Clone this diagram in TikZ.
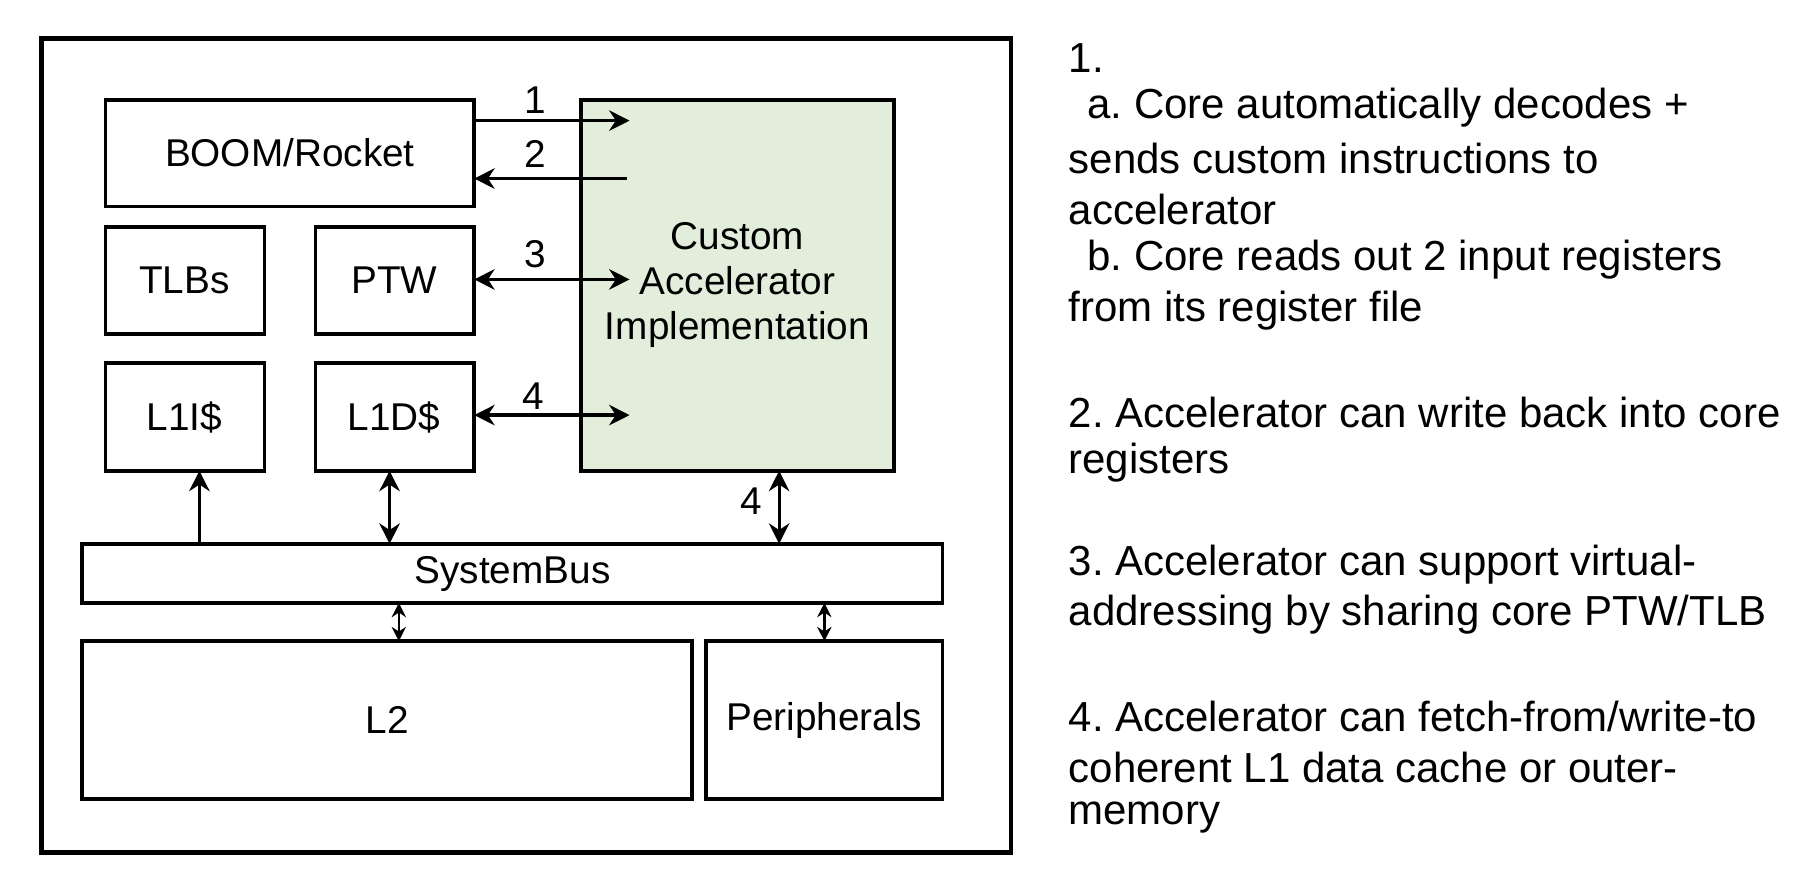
\documentclass[tikz,border=0pt]{standalone}
\usepackage{fontspec}
\setmainfont{Liberation Sans}
\usetikzlibrary{arrows.meta}
\frenchspacing
\definecolor{accgreen}{HTML}{E2EEDB}
\tikzset{
	blk/.style={draw=black,line width=0.9pt},
	lnk/.style={line width=0.8pt,-{Stealth[length=5pt,width=5pt]}},
	bilnk/.style={line width=0.8pt,{Stealth[length=5pt,width=5pt]}-{Stealth[length=5pt,width=5pt]}},
	smlnk/.style={line width=0.6pt,{Stealth[length=3.5pt,width=3.5pt]}-{Stealth[length=3.5pt,width=3.5pt]}},
	txt/.style={anchor=west,inner sep=0pt,font=\fontsize{10.3}{12}\selectfont},
	lbl/.style={font=\fontsize{9.5}{11}\selectfont}
}
\begin{document}
\begin{tikzpicture}[x=0.01cm,y=-0.01cm]
		%
		\useasboundingbox (0,0) rectangle (1568,769);
		\draw[line width=1.2pt] (36,33) rectangle (872,735);
		%
		\draw[blk,fill=accgreen] (501,86) rectangle (771,406);
		\node[lbl,align=center] (acc) at (636,246) {Custom\\Accelerator\\Implementation};
		\draw[blk] (91,86) rectangle (409,178);   \node[lbl] (boom) at (250,132) {BOOM/Rocket};
		\draw[blk] (91,196) rectangle (228,288);  \node[lbl] (tlb) at (159,242) {TLBs};
		\draw[blk] (272,196) rectangle (409,288); \node[lbl] (ptw) at (340,242) {PTW};
		\draw[blk] (91,313) rectangle (228,406);  \node[lbl] (lii) at (159,360) {L1I\$};
		\draw[blk] (272,313) rectangle (409,406); \node[lbl] (lid) at (340,360) {L1D\$};
		\draw[blk] (71,469) rectangle (813,520);  \node[lbl] (bus) at (442,495) {SystemBus};
		\draw[blk] (71,553) rectangle (597,689);  \node[lbl] (ltwo) at (334,621) {L2};
		\draw[blk] (609,553) rectangle (813,689); \node[lbl] (per) at (711,621) {Peripherals};
		%
		\coordinate (a1s) at (409,104); \coordinate (a1e) at (543,104);
		\coordinate (a2s) at (541,154); \coordinate (a2e) at (409,154);
		\coordinate (a3s) at (409,241); \coordinate (a3e) at (543,241);
		\coordinate (a4s) at (409,358); \coordinate (a4e) at (543,358);
		\draw[lnk] (a1s) -- (a1e); \node[lbl] (n1) at (462,86) {1};
		\draw[lnk] (a2s) -- (a2e); \node[lbl] (n2) at (462,133) {2};
		\draw[bilnk] (a3s) -- (a3e); \node[lbl] (n3) at (462,219) {3};
		\draw[bilnk] (a4s) -- (a4e); \node[lbl] (n4) at (460,342) {4};
		%
		\coordinate (v1s) at (172,469); \coordinate (v1e) at (172,406);
		\coordinate (v2s) at (336,469); \coordinate (v2e) at (336,406);
		\coordinate (v3s) at (672,469); \coordinate (v3e) at (672,406);
		\coordinate (v4s) at (344,520); \coordinate (v4e) at (344,553);
		\coordinate (v5s) at (711,520); \coordinate (v5e) at (711,553);
		\draw[lnk] (v1s) -- (v1e);
		\draw[bilnk] (v2s) -- (v2e);
		\draw[bilnk] (v3s) -- (v3e); \node[lbl] (n5) at (648,432) {4};
		\draw[smlnk] (v4s) -- (v4e);
		\draw[smlnk] (v5s) -- (v5e);
		%
		\node[txt] (t1) at (921,50) {1.};
		\node[txt] (t2) at (921,93) {\hspace{0.45em}a. Core automatically decodes +};
		\node[txt] (t3) at (921,137) {sends custom instructions to};
		\node[txt] (t4) at (921,181) {accelerator};
		\node[txt] (t5) at (921,224) {\hspace{0.45em}b. Core reads out 2 input registers};
		\node[txt] (t6) at (921,268) {from its register file};
		\node[txt] (t7) at (921,356) {2. Accelerator can write back into core};
		\node[txt] (t8) at (921,399) {registers};
		\node[txt] (t9) at (921,487) {3. Accelerator can support virtual-};
		\node[txt] (t10) at (921,530) {addressing by sharing core PTW/TLB};
		\node[txt] (t11) at (921,618) {4. Accelerator can fetch-from/write-to};
		\node[txt] (t12) at (921,662) {coherent L1 data cache or outer-};
		\node[txt] (t13) at (921,705) {memory};
\end{tikzpicture}
\end{document}
